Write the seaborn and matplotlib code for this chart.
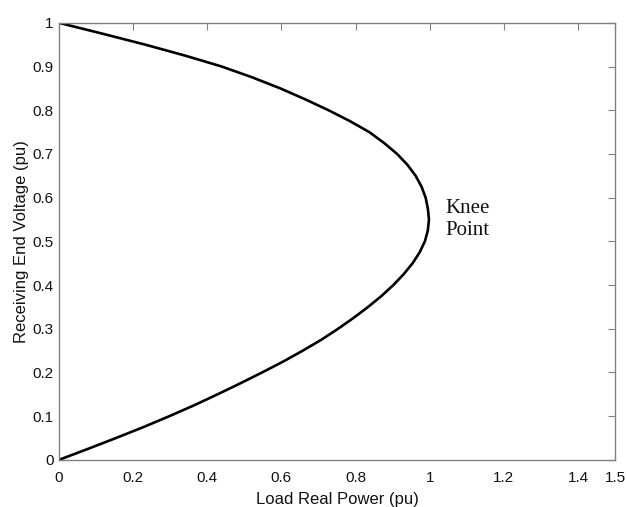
import matplotlib
matplotlib.use("Agg")
import matplotlib.pyplot as plt
import seaborn as sns
import pandas as pd

# PV (nose) curve, from V = 1 down the upper branch, round the knee, down to V = 0
voltage = [1.0, 0.975, 0.95, 0.925, 0.9, 0.875, 0.85, 0.825, 0.8, 0.775, 0.75, 0.725, 0.7, 0.675,
           0.65, 0.625, 0.6, 0.575, 0.55, 0.525, 0.5, 0.475, 0.45, 0.425, 0.4, 0.375, 0.35, 0.325,
           0.3, 0.275, 0.25, 0.225, 0.2, 0.175, 0.15, 0.125, 0.1, 0.075, 0.05, 0.025, 0.0]
power = [0.0, 0.118, 0.233, 0.34, 0.439, 0.522, 0.597, 0.664, 0.727, 0.785, 0.837, 0.877, 0.912, 0.94,
         0.962, 0.978, 0.989, 0.995, 0.998, 0.995, 0.987, 0.973, 0.954, 0.93, 0.902, 0.87, 0.834, 0.795,
         0.753, 0.708, 0.658, 0.605, 0.548, 0.489, 0.428, 0.365, 0.298, 0.228, 0.154, 0.078, 0.0]

x_ticks = [0, 0.2, 0.4, 0.6, 0.8, 1, 1.2, 1.4, 1.5]
x_labels = ["0", "0.2", "0.4", "0.6", "0.8", "1", "1.2", "1.4", "1.5"]
y_ticks = [0, 0.1, 0.2, 0.3, 0.4, 0.5, 0.6, 0.7, 0.8, 0.9, 1]
y_labels = ["0", "0.1", "0.2", "0.3", "0.4", "0.5", "0.6", "0.7", "0.8", "0.9", "1"]

df = pd.DataFrame({"P": power, "V": voltage})

sns.set_style("white")
plt.rcParams['font.family'] = ['Liberation Sans', 'DejaVu Sans']

fig = plt.figure(figsize=(6.27, 5.07), dpi=100)
ax = fig.add_axes([0.094, 0.093, 0.887, 0.862])

sns.lineplot(data=df, x="P", y="V", sort=False, estimator=None, color="black", lw=1.9,
             solid_joinstyle="round", solid_capstyle="round", ax=ax)

ax.set_xlim(0, 1.5)
ax.set_ylim(0, 1)
ax.set_xticks(x_ticks)
ax.set_xticklabels(x_labels)
ax.set_yticks(y_ticks)
ax.set_yticklabels(y_labels)
ax.tick_params(direction="in", top=True, right=True, length=5, width=0.8,
               color="#808080", labelsize=11, labelcolor="#111111")
ax.tick_params(axis="x", pad=8)
ax.tick_params(axis="y", pad=4)
for s in ax.spines.values():
    s.set_color("#808080")
    s.set_linewidth(1.0)

ax.set_xlabel("Load Real Power (pu)", fontsize=12, labelpad=5, color="#111111")
ax.set_ylabel("Receiving End Voltage (pu)", fontsize=12, labelpad=2, color="#111111")

ax.text(1.041, 0.55, "Knee\nPoint", fontsize=15, family=["Liberation Serif"],
        va="center", ha="left", linespacing=1.2, color="#111111")

fig.savefig("out.png", dpi=100)
